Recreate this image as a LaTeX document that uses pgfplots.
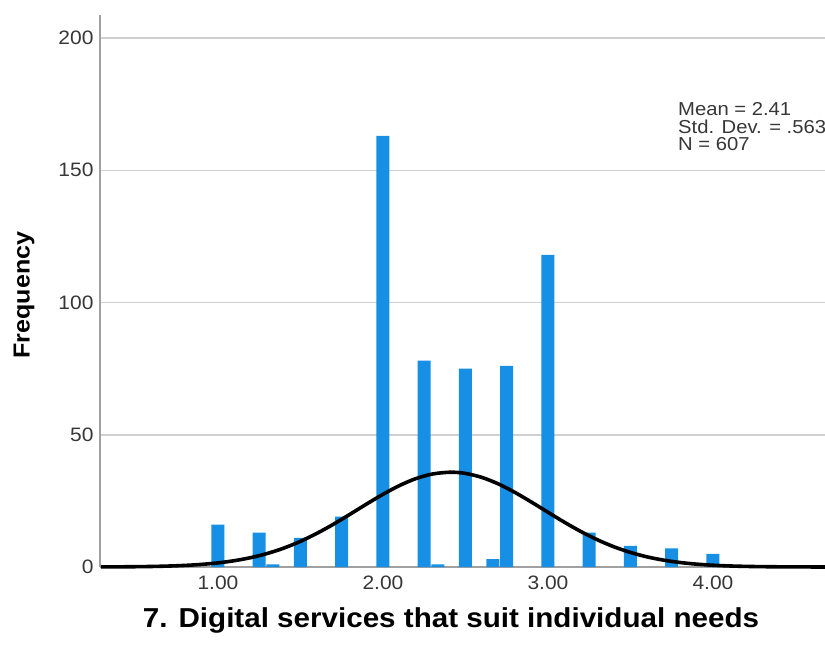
\documentclass[border=0pt]{standalone}
\usepackage{pgfplots}
\pgfplotsset{compat=1.18}
\usepackage{fontspec}
\setmainfont{Liberation Sans}[FakeStretch=1.08]
\definecolor{barblue}{RGB}{22,143,229}
\definecolor{gridgray}{RGB}{208,208,208}
\definecolor{axisgray}{RGB}{160,160,160}
\definecolor{ticktext}{RGB}{55,55,55}
\begin{document}
\begin{tikzpicture}
\begin{axis}[
  scale only axis,
  width=725bp, height=552bp,
  xmin=0.285, xmax=4.679,
  ymin=0, ymax=208.7,
  clip=false,
  axis x line*=bottom, axis y line*=left,
  axis line style={axisgray, line width=1.4bp, -},
  xtick={1,2,3,4},
  xticklabels={1.00,2.00,3.00,4.00},
  ytick={0,50,100,150,200},
  major tick length=0pt,
  ymajorgrids,
  grid style={gridgray, line width=1.5bp},
  tick label style={font=\fontsize{19.5}{21}\selectfont, text=ticktext},
  /pgf/number format/assume math mode=true,
  xticklabel style={yshift=-5bp},
  yticklabel style={xshift=-3bp},
]
\addplot[ybar, bar width=13bp, fill=barblue, draw=none] coordinates {
(1.00,16) (1.25,13) (1.3333,1) (1.50,11) (1.75,19) (2.00,163)
(2.25,78) (2.3333,1) (2.50,75) (2.6667,3) (2.75,76) (3.00,118)
(3.25,13) (3.50,8) (3.75,7) (4.00,5)
};
\addplot[black, line width=3.6bp, smooth] coordinates {
(0.29,0.030) (0.4,0.061) (0.5,0.114) (0.6,0.204) (0.7,0.356) (0.8,0.600)
(0.9,0.982) (1.0,1.557) (1.1,2.391) (1.2,3.559) (1.3,5.132) (1.4,7.169)
(1.5,9.706) (1.6,12.73) (1.7,16.18) (1.8,19.93) (1.9,23.78) (2.0,27.49)
(2.1,30.80) (2.2,33.43) (2.3,35.16) (2.41,35.84) (2.5,35.38) (2.6,33.86)
(2.7,31.39) (2.8,28.19) (2.9,24.54) (3.0,20.70) (3.1,16.91) (3.2,13.39)
(3.3,10.27) (3.4,7.637) (3.5,5.501) (3.6,3.840) (3.7,2.596) (3.8,1.701)
(3.9,1.080) (4.0,0.664) (4.1,0.396) (4.2,0.229) (4.3,0.128) (4.4,0.069)
(4.5,0.036) (4.6,0.018) (4.679,0.010)
};
\end{axis}
\node[anchor=base west, font=\fontsize{18.8}{20}\selectfont, text=ticktext, inner sep=0pt] at (578bp,451bp) {Mean = 2.41};
\node[anchor=base west, font=\fontsize{18.8}{20}\selectfont, text=ticktext, inner sep=0pt] at (578bp,433.5bp) {Std. Dev. = .563};
\node[anchor=base west, font=\fontsize{18.8}{20}\selectfont, text=ticktext, inner sep=0pt] at (578bp,416bp) {N = 607};
\node[anchor=base, font=\fontsize{27.5}{30}\selectfont\bfseries, inner sep=0pt] at (351bp,-60bp) {7. Digital services that suit individual needs};
\node[rotate=90, anchor=center, font=\fontsize{23.3}{25}\selectfont\bfseries, inner sep=0pt] at (-76bp,272bp) {Frequency};
\pgfresetboundingbox
\path (-100bp,-84bp) rectangle (725bp,567bp);
\end{tikzpicture}
\end{document}
